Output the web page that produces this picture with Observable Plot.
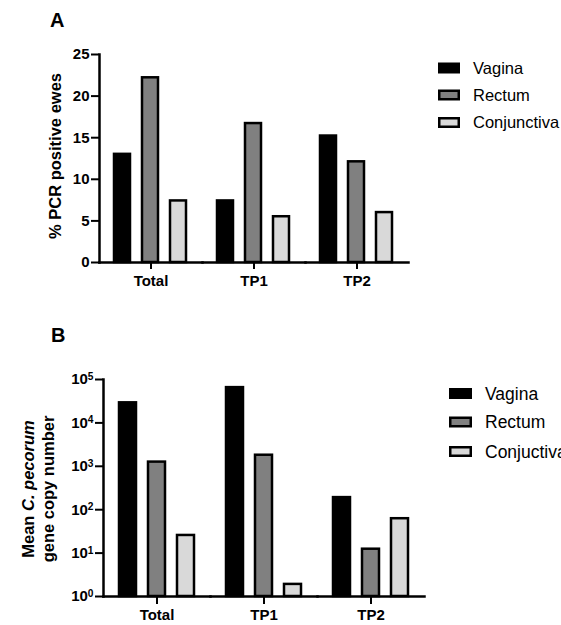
<!DOCTYPE html>
<html>
<head>
<meta charset="utf-8">
<script src="https://cdn.jsdelivr.net/npm/d3@7"></script>
<script src="https://cdn.jsdelivr.net/npm/@observablehq/plot@0.6"></script>
<style>
  html, body { margin: 0; padding: 0; background: #fff; overflow: hidden; }
  #wrap { position: relative; width: 561px; height: 625px; overflow: hidden; }
  #wrap > .panel { position: absolute; left: 0; }
  #overlay { position: absolute; left: 0; top: 0; pointer-events: none; }
</style>
</head>
<body>
<div id="wrap">
  <div class="panel" id="pa" style="top:0"></div>
  <div class="panel" id="pb" style="top:300px"></div>
  <svg id="overlay" width="561" height="625"></svg>
</div>
<script>
// ---------- data ----------
const groups = ["Total", "TP1", "TP2"];
const seriesA = ["Vagina", "Rectum", "Conjunctiva"];
const seriesB = ["Vagina", "Rectum", "Conjuctiva"];
const fills = ["#000000", "#808080", "#d9d9d9"];

// Panel A: % PCR positive ewes
const pctVagina = [13.0, 7.4, 15.2];
const pctRectum = [22.2, 16.7, 12.1];
const pctConj   = [7.4, 5.5, 6.0];
const ticksA = [0, 5, 10, 15, 20, 25];

// Panel B: mean C. pecorum gene copy number (log scale)
const copyVagina = [29000, 65000, 190];
const copyRectum = [1250, 1800, 12.3];
const copyConj   = [25.5, 1.9, 62];
const ticksB = [1, 10, 100, 1000, 10000, 100000];

const font = "'Liberation Sans', Arial, Helvetica, sans-serif";
const tickFont = 15;

function table(series, cols) {
  const rows = [];
  groups.forEach((g, i) => series.forEach((s, j) => rows.push({group: g, series: s, value: cols[j][i]})));
  return rows;
}
const dataA = table(seriesA, [pctVagina, pctRectum, pctConj]);
const dataB = table(seriesB, [copyVagina, copyRectum, copyConj]);

// ---------- panel A ----------
const plotA = Plot.plot({
  width: 561, height: 300,
  marginLeft: 98, marginRight: 153, marginTop: 54, marginBottom: 38,
  style: {fontFamily: font, fontSize: tickFont + "px", fontWeight: "bold", color: "black", background: "transparent"},
  fx: {domain: groups, padding: 0, label: null},
  x: {domain: seriesA, paddingInner: 0.42, paddingOuter: 0.5, axis: null},
  y: {domain: [0, 25], label: null},
  color: {domain: seriesA, range: fills},
  marks: [
    Plot.barY(dataA, {fx: "group", x: "series", y: "value", fill: "series", stroke: "black", strokeWidth: 2.5}),
    Plot.frame({anchor: "bottom", strokeWidth: 2.5, strokeLinecap: "square"}),
    Plot.frame({anchor: "left", facetAnchor: "left", strokeWidth: 2.5, strokeLinecap: "square"}),
    Plot.axisY({ticks: ticksA, tickSize: 8, tickPadding: 2, strokeWidth: 2, label: null, fontSize: tickFont, fontWeight: "bold"}),
    Plot.axisFx({anchor: "bottom", tickSize: 7, tickPadding: 6, strokeWidth: 2, label: null, fontSize: tickFont, fontWeight: "bold"})
  ]
});
document.getElementById("pa").appendChild(plotA);

// ---------- panel B ----------
const plotB = Plot.plot({
  width: 561, height: 325,
  marginLeft: 102, marginRight: 136, marginTop: 79, marginBottom: 29,
  style: {fontFamily: font, fontSize: tickFont + "px", fontWeight: "bold", color: "black", background: "transparent"},
  fx: {domain: groups, padding: 0, label: null},
  x: {domain: seriesB, paddingInner: 0.42, paddingOuter: 0.52, axis: null},
  y: {type: "log", domain: [ticksB[0], ticksB[ticksB.length - 1]], label: null},
  color: {domain: seriesB, range: fills},
  marks: [
    Plot.barY(dataB, {fx: "group", x: "series", y1: ticksB[0], y2: "value", fill: "series", stroke: "black", strokeWidth: 2.5}),
    Plot.frame({anchor: "bottom", strokeWidth: 2.5, strokeLinecap: "square"}),
    Plot.frame({anchor: "left", facetAnchor: "left", strokeWidth: 2.5, strokeLinecap: "square"}),
    Plot.axisY({ticks: ticksB, tickSize: 8, tickPadding: 2, strokeWidth: 2, label: null, fontSize: tickFont, fontWeight: "bold",
                tickFormat: d => "10^" + Math.round(Math.log10(d))}),
    Plot.axisFx({anchor: "bottom", tickSize: 8, tickPadding: 5, strokeWidth: 2, label: null, fontSize: tickFont, fontWeight: "bold"})
  ]
});
document.getElementById("pb").appendChild(plotB);

// superscript exponents
d3.select(plotB).selectAll("text").each(function () {
  const t = this.textContent;
  if (t.includes("^") && this.childElementCount === 0) {
    const [b, e] = t.split("^");
    const s = d3.select(this);
    s.text(null);
    s.append("tspan").text(b);
    s.append("tspan").attr("dy", "-0.42em").attr("font-size", "0.68em").text(e);
  }
});

// ---------- overlay: panel letters, axis titles, legends ----------
const ov = d3.select("#overlay").attr("font-family", font);
ov.append("text").attr("x", 50).attr("y", 27).attr("font-size", 20).attr("font-weight", "bold").text("A");
ov.append("text").attr("x", 51).attr("y", 341.5).attr("font-size", 20).attr("font-weight", "bold").text("B");

ov.append("text").attr("transform", "translate(61,156) rotate(-90)").attr("text-anchor", "middle")
  .attr("font-size", 16.5).attr("font-weight", "bold").text("% PCR positive ewes");

const yb1 = ov.append("text").attr("transform", "translate(33.5,489) rotate(-90)").attr("text-anchor", "middle")
  .attr("font-size", 16.5).attr("font-weight", "bold");
yb1.append("tspan").text("Mean ");
yb1.append("tspan").attr("font-style", "italic").text("C. pecorum");
ov.append("text").attr("transform", "translate(53.5,489) rotate(-90)").attr("text-anchor", "middle")
  .attr("font-size", 16.5).attr("font-weight", "bold").text("gene copy number");

function legend(series, x, ys, sw, sh, tx, fs) {
  series.forEach((s, i) => {
    ov.append("rect").attr("x", x + 1.25).attr("y", ys[i] - sh / 2 + 1.25)
      .attr("width", sw - 2.5).attr("height", sh - 2.5)
      .attr("fill", fills[i]).attr("stroke", "black").attr("stroke-width", 2.5);
    ov.append("text").attr("x", tx).attr("y", ys[i]).attr("dy", "0.35em")
      .attr("font-size", fs).text(s);
  });
}
legend(seriesA, 438, [68, 95, 122.5], 22, 11, 473, 16.5);
legend(seriesB, 449, [393.5, 422, 451.5], 23, 11, 485, 17.5);
</script>
</body>
</html>
